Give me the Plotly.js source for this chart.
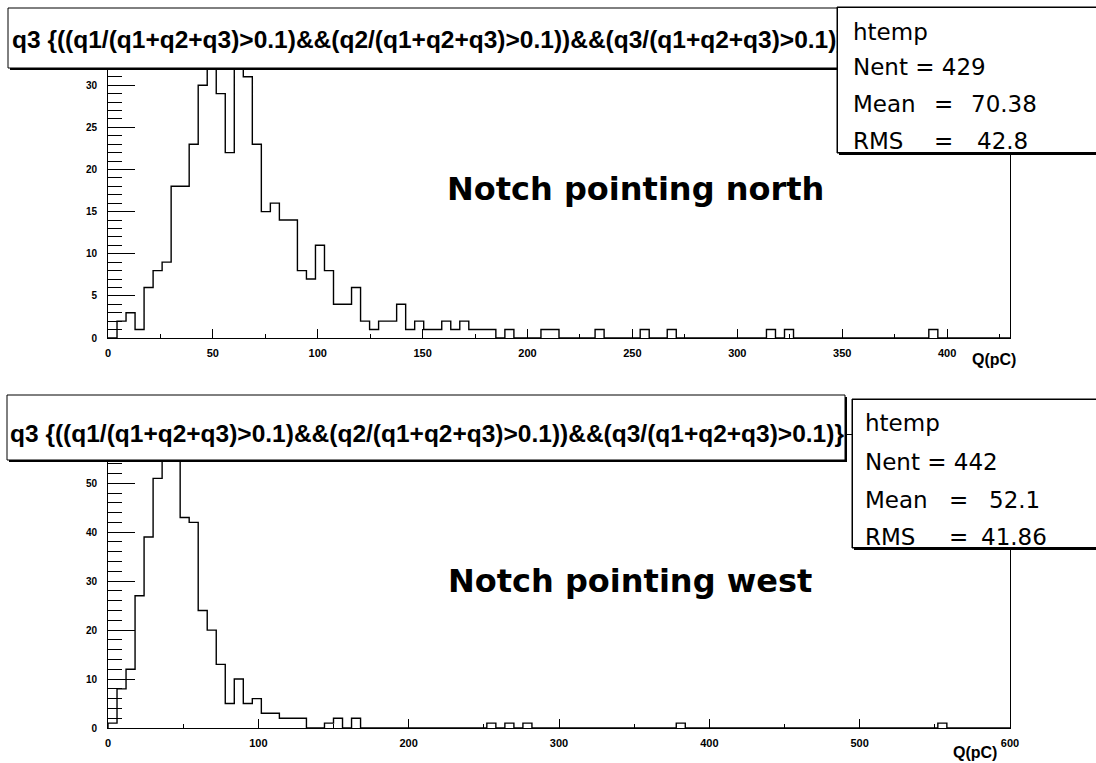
<!DOCTYPE html>
<html>
<head>
<meta charset="utf-8">
<script src="https://cdn.plot.ly/plotly-3.0.1.min.js"></script>
<style>html,body{margin:0;padding:0;background:#fff;}#chart{width:1096px;height:763px;}</style>
</head>
<body>
<div id="chart"></div>
<script>
// ---------------- DATA ----------------
const titleText = "q3 {((q1/(q1+q2+q3)>0.1)&&(q2/(q1+q2+q3)>0.1))&&(q3/(q1+q2+q3)>0.1)}";
const xAxisTitle = "Q(pC)";

// Top histogram: "Notch pointing north", 100 bins over [0, 430]
const topLabel = "Notch pointing north";
const topRangeMax = 430;
const topCounts = [
  0, 2, 3, 1, 6, 8, 9, 18, 18, 23,
  30, 33, 29, 22, 33, 31, 23, 15, 16, 14,
  14, 8, 7, 11, 8, 4, 4, 6, 2, 1,
  2, 2, 4, 1, 2, 1, 1, 2, 1, 2,
  1, 1, 1, 0, 1, 0, 0, 0, 1, 1,
  0, 0, 0, 0, 1, 0, 0, 0, 0, 1,
  0, 0, 1, 0, 0, 0, 0, 0, 0, 0,
  0, 0, 0, 1, 0, 1, 0, 0, 0, 0,
  0, 0, 0, 0, 0, 0, 0, 0, 0, 0,
  0, 1, 0, 0, 0, 0, 0, 0, 0, 0
];
const statNames = ["Nent", "Mean", "RMS"];
const topStatValues = ["429", "70.38", "42.8"];

// Bottom histogram: "Notch pointing west", 100 bins over [0, 600]
const bottomLabel = "Notch pointing west";
const bottomRangeMax = 600;
const bottomCounts = [
  1, 8, 12, 27, 39, 51, 57, 57, 43, 42,
  24, 20, 13, 5, 10, 5, 6, 3, 3, 2,
  2, 2, 0, 0, 1, 2, 0, 2, 0, 0,
  0, 0, 0, 0, 0, 0, 0, 0, 0, 0,
  0, 0, 1, 0, 1, 0, 1, 0, 0, 0,
  0, 0, 0, 0, 0, 0, 0, 0, 0, 0,
  0, 0, 0, 1, 0, 0, 0, 0, 0, 0,
  0, 0, 0, 0, 0, 0, 0, 0, 0, 0,
  0, 0, 0, 0, 0, 0, 0, 0, 0, 0,
  0, 0, 1, 0, 0, 0, 0, 0, 0, 0
];
const bottomStatValues = ["442", "52.1", "41.86"];
const histName = "htemp";

// ---------------- HELPERS ----------------
const W = 1096, H = 763;
const px = x => x / W;
const py = y => 1 - y / H;

function stepTrace(counts, xmax, xa, ya) {
  const w = xmax / counts.length;
  const xs = [0], ys = [0];
  counts.forEach((c, i) => { xs.push(i * w); ys.push(c); });
  xs.push(xmax); ys.push(0);
  return {
    type: 'scatter', mode: 'lines', x: xs, y: ys, xaxis: xa, yaxis: ya,
    line: {shape: 'hv', color: '#000', width: 1.4}, hoverinfo: 'skip', showlegend: false
  };
}

const tickFont = {family: '"Liberation Sans", Arial, sans-serif', size: 11, color: '#000', weight: 'bold'};
function xAxisDef(max, dtick, anchor) {
  return {
    domain: [px(108), px(1010)], range: [0, max], anchor: anchor,
    tick0: 0, dtick: dtick, ticks: 'inside', ticklen: 9, tickwidth: 1, tickcolor: '#000',
    minor: {dtick: dtick / 2, ticks: 'inside', ticklen: 4, tickcolor: '#000', tickwidth: 1, showgrid: false},
    showline: true, linecolor: '#000', linewidth: 1, mirror: true,
    showgrid: false, zeroline: false, tickfont: tickFont, ticklabelstandoff: 5, fixedrange: true
  };
}
function yAxisDef(y0pix, ytoppix, max, dtick, minorDtick, anchor) {
  return {
    domain: [py(y0pix), py(ytoppix)], range: [0, max], anchor: anchor,
    tick0: 0, dtick: dtick, ticks: 'inside', ticklen: 27, tickwidth: 1, tickcolor: '#000',
    minor: {dtick: minorDtick, ticks: 'inside', ticklen: 14, tickcolor: '#000', tickwidth: 1, showgrid: false},
    showline: true, linecolor: '#000', linewidth: 1, mirror: true,
    showgrid: false, zeroline: false, tickfont: Object.assign({}, tickFont, {size: 10}),
    ticklabelstandoff: 8, fixedrange: true
  };
}

function boxShapes(x0, y0, x1, y1) {
  return [
    {type: 'rect', xref: 'paper', yref: 'paper', x0: px(x0 + 2), x1: px(x1 + 2), y0: py(y1 + 2), y1: py(y0 + 2),
     fillcolor: '#000', line: {width: 0}, layer: 'above'},
    {type: 'rect', xref: 'paper', yref: 'paper', x0: px(x0), x1: px(x1), y0: py(y1), y1: py(y0),
     fillcolor: '#fff', line: {color: '#000', width: 1}, layer: 'above'}
  ];
}

// box drawn as an annotation so it stacks over earlier texts (stats pave over title)
function boxAnns(x0, y0, x1, y1) {
  const mk = (dx, bg, bw) => ({
    text: '\u00a0', x: px(x0 + dx), y: py(y0 + dx), xref: 'paper', yref: 'paper', showarrow: false,
    xanchor: 'left', yanchor: 'top', width: x1 - x0 - 2, height: y1 - y0 - 2,
    bgcolor: bg, bordercolor: '#000', borderwidth: bw, borderpad: 0,
    font: {size: 4, color: bg}
  });
  return [mk(2, '#000', 1), mk(0, '#fff', 1)];
}

function ann(text, x, y, font, xanchor) {
  return {text: text, x: px(x), y: py(y), xref: 'paper', yref: 'paper', showarrow: false,
          xanchor: xanchor || 'left', yanchor: 'middle', font: font, borderpad: 0};
}

const titleFont = {family: '"Liberation Sans", Arial, sans-serif', size: 24.5, color: '#000', weight: 'bold'};
const statFont = {family: '"DejaVu Sans", sans-serif', size: 23, color: '#000'};
const bigFont = {family: '"DejaVu Sans", sans-serif', size: 32, color: '#000', weight: 'bold'};
const axTitleFont = {family: '"Liberation Sans", Arial, sans-serif', size: 16, color: '#000', weight: 'bold'};

function statsAnns(x, yLines, eqX, valX, vals) {
  return [
    ann(histName, x, yLines[0], statFont),
    ann(statNames[0] + " = " + vals[0], x, yLines[1], statFont),
    ann(statNames[1], x, yLines[2], statFont),
    ann("=", eqX, yLines[2], statFont),
    ann(vals[1], valX[0], yLines[2], statFont),
    ann(statNames[2], x, yLines[3], statFont),
    ann("=", eqX, yLines[3], statFont),
    ann(vals[2], valX[1], yLines[3], statFont)
  ];
}

const data = [
  stepTrace(topCounts, topRangeMax, 'x', 'y'),
  stepTrace(bottomCounts, bottomRangeMax, 'x2', 'y2')
];

const layout = {
  width: W, height: H, margin: {l: 0, r: 0, t: 0, b: 0},
  paper_bgcolor: '#fff', plot_bgcolor: '#fff', showlegend: false,
  xaxis: xAxisDef(topRangeMax, 50, 'y'),
  yaxis: yAxisDef(338, 46, Math.max(...topCounts) * 1.05, 5, 1, 'x'),
  xaxis2: xAxisDef(bottomRangeMax, 100, 'y2'),
  yaxis2: yAxisDef(728, 435, Math.max(...bottomCounts) * 1.05, 10, 2, 'x2'),
  shapes: [].concat(
    boxShapes(8, 8, 840, 68),
    boxShapes(7, 395, 845, 460),
    // stats panes (also repeated as annotations above the titles)
    boxShapes(837, 7, 1100, 153),
    boxShapes(852, 399, 1100, 548)
  ),
  annotations: [].concat(
    [ann(titleText, 11, 39, titleFont)],
    [ann(titleText, 9, 433, titleFont)],
    boxAnns(837, 7, 1100, 153),
    boxAnns(852, 399, 1100, 548),
    statsAnns(852, [32, 67, 104, 141], 933, [970, 976], topStatValues),
    statsAnns(864, [423, 462, 500, 537], 948, [988, 980], bottomStatValues),
    [ann(topLabel, 635, 189, bigFont, 'center'),
     ann(bottomLabel, 630, 581, bigFont, 'center'),
     ann(xAxisTitle, 994, 359, axTitleFont, 'center'),
     ann(xAxisTitle, 975, 752, axTitleFont, 'center')]
  )
};

Plotly.newPlot('chart', data, layout, {staticPlot: true, displayModeBar: false});
</script>
</body>
</html>
